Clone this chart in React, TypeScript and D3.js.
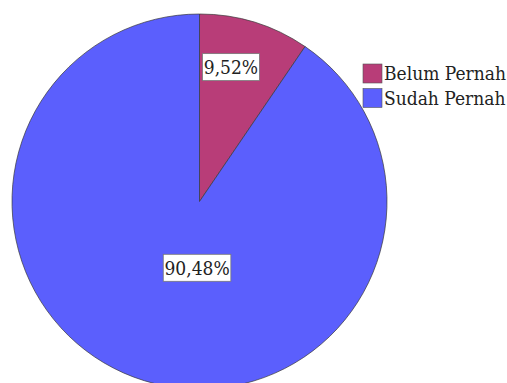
import React from "react";
import { pie, arc, scaleOrdinal } from "d3";

// categories and shares (percent)
const categories = ["Belum Pernah", "Sudah Pernah"];
const shares = [9.52, 90.48];
const labels = ["9,52%", "90,48%"];
const colors = ["#b83d78", "#5b5ffd"];

const W = 507;
const H = 383;
const cx = 199.5;
const cy = 201.5;
const R = 187.5;
const FONT = "'DejaVu Serif Condensed', 'DejaVu Serif', serif";

// label placement (radius fraction + horizontal nudge), SPSS-style
const labelRad = [0.75, 0.37];
const labelNudge = [-10, 18];

export default function App() {
  const color = scaleOrdinal<string, string>().domain(categories).range(colors);
  const slices = pie<number>().sort(null)(shares);
  const path = arc<any>().innerRadius(0).outerRadius(R);

  return (
    <svg
      width={W}
      height={H}
      style={{ position: "absolute", left: 0, top: 0, background: "#fff" }}
    >
      <g transform={`translate(${cx},${cy})`}>
        {slices.map((s, i) => (
          <path
            key={i}
            d={path(s) || ""}
            fill={color(categories[i])}
            stroke="#3a3a3a"
            strokeWidth={0.7}
          />
        ))}
        {slices.map((s, i) => {
          const r = R * labelRad[i];
          const [x0, y0] = arc<any>().innerRadius(r).outerRadius(r).centroid(s);
          const x = x0 + labelNudge[i];
          const y = y0;
          const w = labels[i].length * 10.6 + 4;
          return (
            <g key={"l" + i}>
              <rect
                x={x - w / 2}
                y={y - 13.5}
                width={w}
                height={27}
                fill="#fff"
                stroke="#777"
                strokeWidth={0.8}
              />
              <text x={x} y={y + 7} textAnchor="middle" fill="#222" style={{ fontFamily: FONT, fontSize: 19, fontStretch: "condensed" }}>
                {labels[i]}
              </text>
            </g>
          );
        })}
      </g>
      <g transform="translate(363,64)">
        {categories.map((c, i) => (
          <g key={c} transform={`translate(0,${i * 24.5})`}>
            <rect width={19} height={19} fill={color(c)} stroke="#555" strokeWidth={0.6} />
            <text x={21} y={16} fill="#222" style={{ fontFamily: FONT, fontSize: 19, fontStretch: "condensed" }}>
              {c}
            </text>
          </g>
        ))}
      </g>
    </svg>
  );
}
